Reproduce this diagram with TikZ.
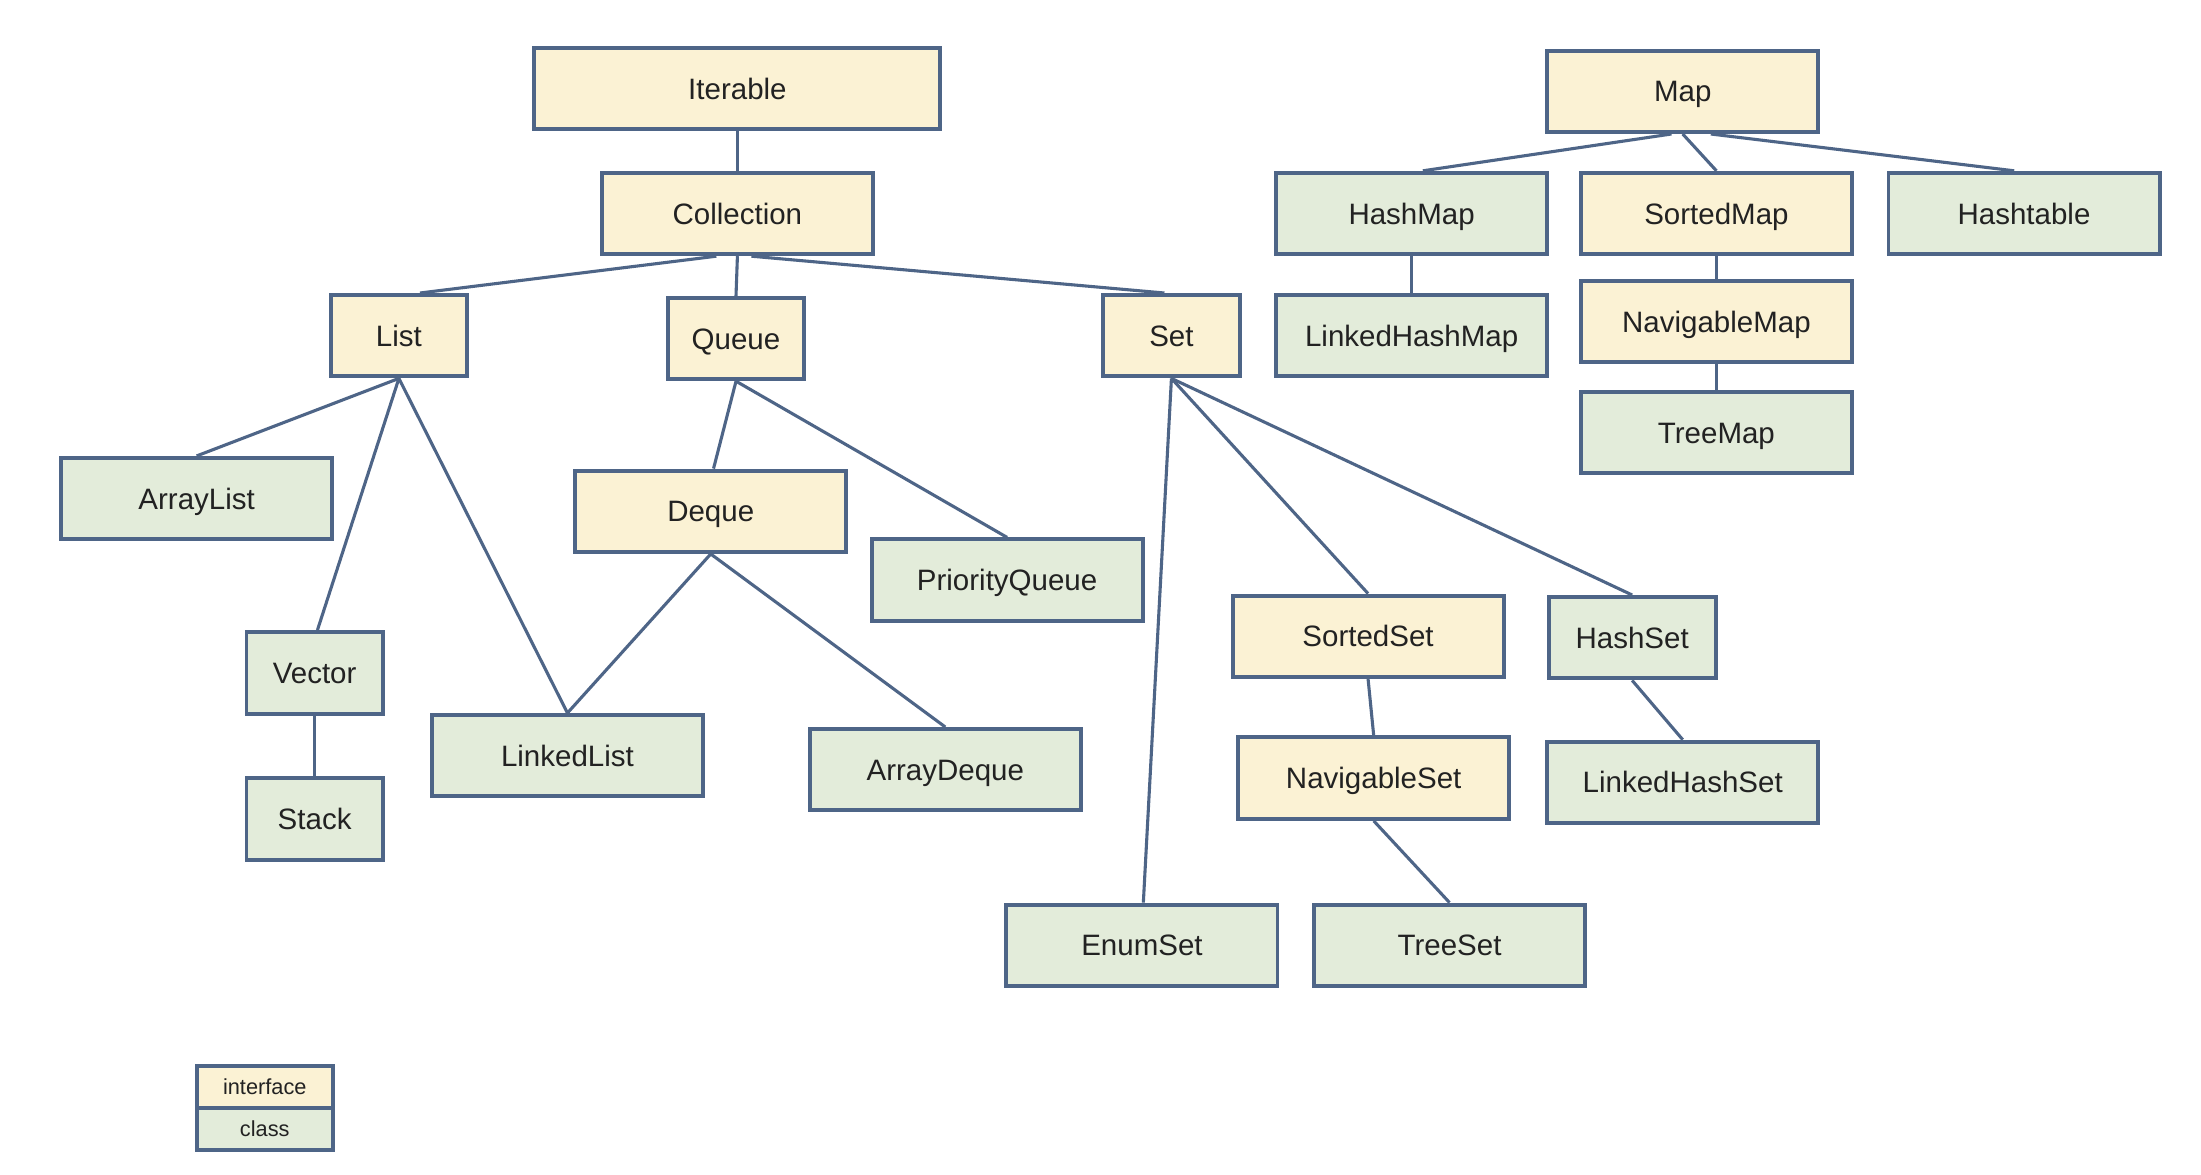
\documentclass[tikz,border=0pt]{standalone}
\usepackage{fontspec}
\setmainfont{Liberation Sans}
\definecolor{ifill}{HTML}{FBF2D4}
\definecolor{cfill}{HTML}{E3ECDA}
\definecolor{edge}{HTML}{4E6587}
\definecolor{txt}{HTML}{222222}
\begin{document}
\begin{tikzpicture}[x=1pt,y=-1pt,
  box/.style={draw=edge,line width=2.8pt,inner sep=0pt,text=txt,
    font=\fontsize{21}{25}\selectfont,minimum height=58pt,
    text height=19pt,text depth=4pt},
  iface/.style={box,fill=ifill},
  cls/.style={box,fill=cfill},
  wide/.style={minimum width=193pt},
  narrow/.style={minimum width=97pt},
  conn/.style={draw=edge,line width=2.2pt},
  leg/.style={draw=edge,line width=2.8pt,inner sep=0pt,text=txt,
    font=\fontsize{15.5}{18}\selectfont,minimum width=97pt,minimum height=30pt,
    text height=14pt,text depth=3.5pt}]
\useasboundingbox[fill=white] (0,0) rectangle (1567,836);
% Collection hierarchy
\node[iface,minimum width=289pt] (iter) at (525,63) {Iterable};
\node[iface,wide] (coll) at (525,152) {Collection};
\node[iface,narrow] (list) at (284,239) {List};
\node[iface,narrow] (queue) at (524,241) {Queue};
\node[iface,narrow] (set) at (834,239) {Set};
\node[cls,wide] (alist) at (140,355) {ArrayList};
\node[iface,wide] (deque) at (506,364) {Deque};
\node[cls,wide] (pq) at (717,413) {PriorityQueue};
\node[cls,narrow] (vector) at (224,479) {Vector};
\node[cls,narrow] (stack) at (224,583) {Stack};
\node[cls,wide] (llist) at (404,538) {LinkedList};
\node[cls,wide] (adeque) at (673,548) {ArrayDeque};
\node[iface,wide] (sset) at (974,453) {SortedSet};
\node[cls,minimum width=119pt] (hset) at (1162,454) {HashSet};
\node[iface,wide] (nset) at (978,554) {NavigableSet};
\node[cls,wide] (lhset) at (1198,557) {LinkedHashSet};
\node[cls,wide] (eset) at (813,673) {EnumSet};
\node[cls,wide] (tset) at (1032,673) {TreeSet};
% Map hierarchy
\node[iface,wide] (map) at (1198,65) {Map};
\node[cls,wide] (hmap) at (1005,152) {HashMap};
\node[iface,wide] (smap) at (1222,152) {SortedMap};
\node[cls,wide] (htable) at (1441,152) {Hashtable};
\node[cls,wide] (lhmap) at (1005,239) {LinkedHashMap};
\node[iface,wide] (nmap) at (1222,229) {NavigableMap};
\node[cls,wide] (tmap) at (1222,308) {TreeMap};
% Legend
\node[leg,fill=ifill] (legi) at (188.5,774) {interface};
\node[leg,fill=cfill,anchor=north] (legc) at ([yshift=2.8pt]legi.south) {class};
% Connectors
\draw[conn] (iter.south) -- (coll.north);
\draw[conn] ([xshift=-15pt]coll.south) -- ([xshift=15pt]list.north);
\draw[conn] (coll.south) -- (queue.north);
\draw[conn] ([xshift=10pt]coll.south) -- ([xshift=-5pt]set.north);
\draw[conn] (list.south) -- (alist.north);
\draw[conn] (list.south) -- ([xshift=2pt]vector.north);
\draw[conn] (list.south) -- (llist.north);
\draw[conn] (vector.south) -- (stack.north);
\draw[conn] (queue.south) -- ([xshift=2pt]deque.north);
\draw[conn] (queue.south) -- (pq.north);
\draw[conn] (deque.south) -- (llist.north);
\draw[conn] (deque.south) -- (adeque.north);
\draw[conn] (set.south) -- ([xshift=1pt]eset.north);
\draw[conn] (set.south) -- (sset.north);
\draw[conn] (set.south) -- (hset.north);
\draw[conn] (sset.south) -- (nset.north);
\draw[conn] (nset.south) -- (tset.north);
\draw[conn] (hset.south) -- (lhset.north);
\draw[conn] ([xshift=-8pt]map.south) -- ([xshift=8pt]hmap.north);
\draw[conn] (map.south) -- (smap.north);
\draw[conn] ([xshift=20pt]map.south) -- ([xshift=-7pt]htable.north);
\draw[conn] (hmap.south) -- (lhmap.north);
\draw[conn] (smap.south) -- (nmap.north);
\draw[conn] (nmap.south) -- (tmap.north);
\end{tikzpicture}
\end{document}
